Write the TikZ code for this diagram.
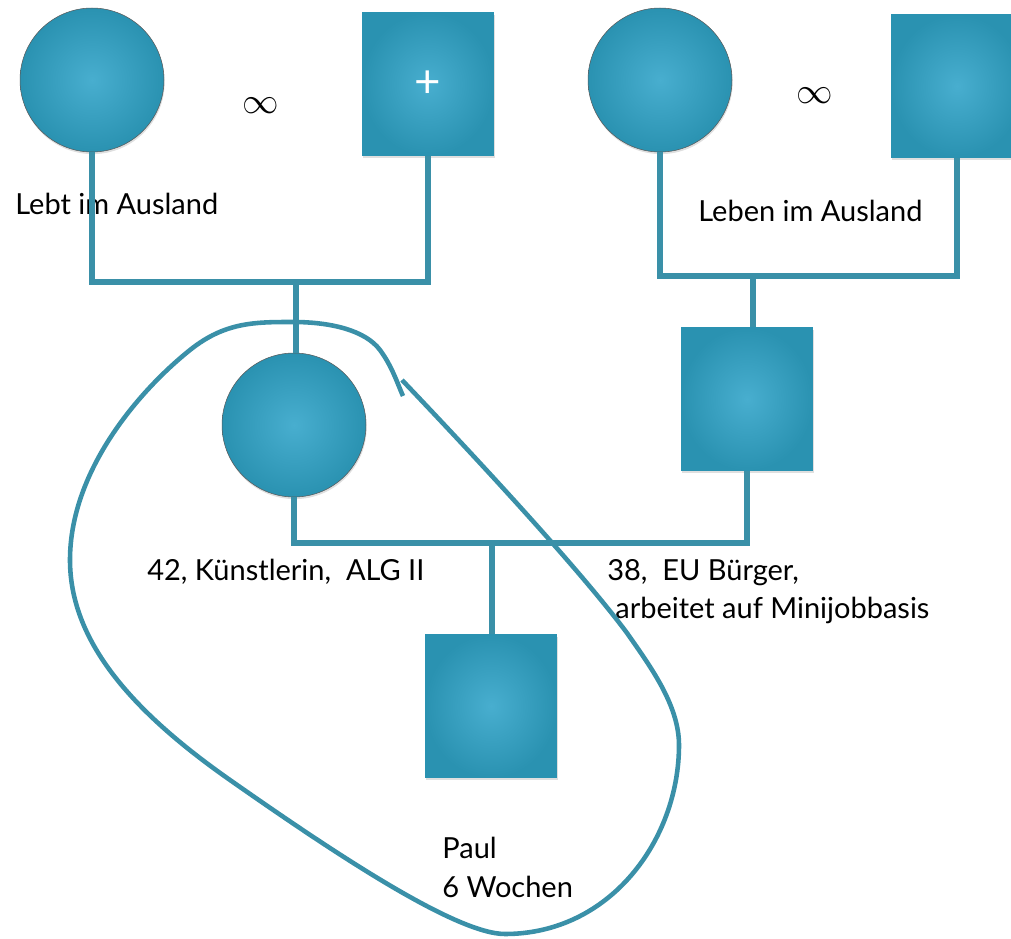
\documentclass[tikz,border=0pt]{standalone}
\usepackage{fontspec}
\setmainfont{Lato}
\usetikzlibrary{shadows}
\definecolor{petrollight}{HTML}{48AECF}
\definecolor{petroldark}{HTML}{2A92B1}
\definecolor{stroke}{HTML}{3A90A8}

\begin{document}
\begin{tikzpicture}[x=0.02cm, y=-0.02cm,
  female/.style={circle, minimum size=2.88cm, inner color=petrollight, outer color=petroldark, draw=gray!70!black, line width=0.3pt, drop shadow={shadow xshift=0.4pt, shadow yshift=-1.2pt, opacity=0.25}},
  male/.style={rectangle, minimum width=2.64cm, minimum height=2.86cm, inner color=petrollight, outer color=petroldark, drop shadow={shadow xshift=0.4pt, shadow yshift=-1.2pt, opacity=0.25}},
  link/.style={draw=stroke, line width=3.2pt},
  lasso/.style={draw=stroke, line width=2.6pt, line join=round},
  txt/.style={font=\fontsize{16.5}{20}\selectfont, inner sep=0pt, anchor=base west}]
\useasboundingbox (0,0) rectangle (1011,939);

\node[female] (oma) at (92,80) {};
\node[male, text=white, font=\fontsize{26}{28}\selectfont] (opa) at (428,84) {+};
\node (ehe1) at (261,106) {\huge$\infty$};
\node[female] (omaeu) at (660,80) {};
\node[male] (opaeu) at (957,86) {};
\node (ehe2) at (815,96) {\huge$\infty$};
\node[male] (vater) at (747,399) {};
\node[female] (mutter) at (294,425) {};
\node[male] (paul) at (491,706) {};

\node[txt] (ausland) at (15,215) {Lebt im Ausland};
\node[txt] (auslandeu) at (698,222) {Leben im Ausland};
\node[txt] (infomutter) at (147,580) {42, Künstlerin,\ \ ALG II};
\node[txt] (infovater) at (607,580) {38,\ \ EU Bürger,};
\node[txt] (infovater2) at (615,618) {arbeitet auf Minijobbasis};
\node[txt] (infopaul) at (442,858) {Paul};
\node[txt] (infopaul2) at (442,897) {6 Wochen};

\coordinate (k1) at (296,282);
\coordinate (k2) at (753,276);
\coordinate (k3) at (492,543);

\draw[link] (oma.south) -- (oma.south |- k1) -| (opa.south);
\draw[link] (k1) -- (k1 |- mutter.north);
\draw[link] (omaeu.south) -- (omaeu.south |- k2) -| (opaeu.south);
\draw[link] (k2) -- (k2 |- vater.north);
\draw[link] (mutter.south) -- (mutter.south |- k3) -| (vater.south);
\draw[link] (k3) -- (k3 |- paul.north);

\draw[lasso] (402,380) .. controls (480,462) and (580,570) .. (627,633)
  .. controls (650,666) and (679,705) .. (679,745)
  .. controls (679,840) and (610,934) .. (505,934)
  .. controls (455,934) and (330,850) .. (230,780)
  .. controls (130,710) and (70,640) .. (70,560)
  .. controls (70,470) and (140,390) .. (190,350)
  .. controls (225,322) and (255,322) .. (293,322)
  .. controls (330,322) and (365,330) .. (380,350)
  .. controls (392,366) and (398,385) .. (403,396);
\end{tikzpicture}
\end{document}
